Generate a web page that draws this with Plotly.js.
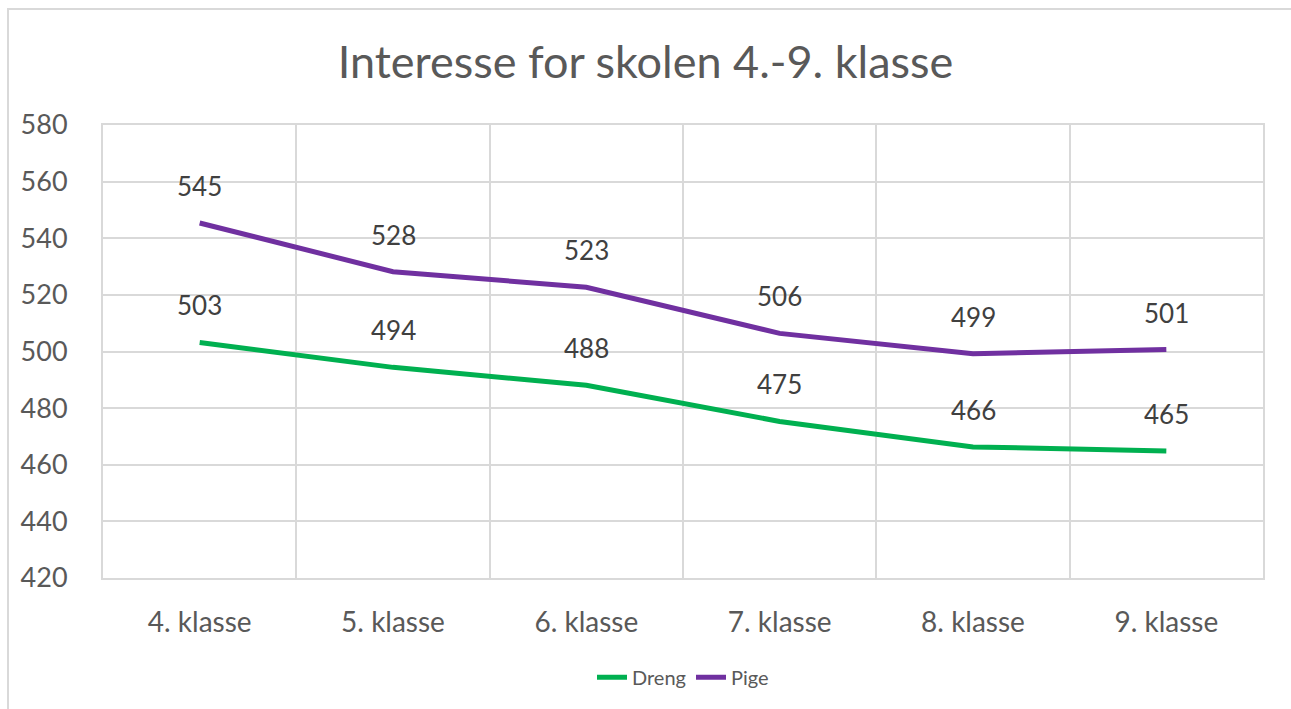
<!DOCTYPE html>
<html>
<head>
<meta charset="utf-8">
<script src="https://cdn.plot.ly/plotly-3.0.1.min.js"></script>
<style>
html,body{margin:0;padding:0;background:#fff;overflow:hidden;}
#frame{position:absolute;left:7px;top:8px;width:1400px;height:800px;border:2px solid #d9d9d9;box-sizing:border-box;}
#chart{position:absolute;left:0;top:0;width:1291px;height:709px;}
</style>
</head>
<body>
<div id="frame"></div>
<div id="chart"></div>
<script>
const categories = ["4. klasse","5. klasse","6. klasse","7. klasse","8. klasse","9. klasse"];
const dreng = [503.2, 494.4, 488.1, 475.3, 466.3, 464.9];
const pige = [545.4, 528.2, 522.7, 506.4, 499.2, 500.7];
const yTicks = [420,440,460,480,500,520,540,560,580];

const FONT = "Lato, 'Open Sans', sans-serif";
const GREEN = "#00B050", PURPLE = "#7030A0";

const traces = [
  {x: categories, y: dreng, name: "Dreng", type: "scatter", mode: "lines",
   line: {color: GREEN, width: 5}, hoverinfo: "skip"},
  {x: categories, y: pige, name: "Pige", type: "scatter", mode: "lines",
   line: {color: PURPLE, width: 5}, hoverinfo: "skip"}
];

const annotations = [];
[dreng, pige].forEach(series => {
  series.forEach((v, i) => {
    annotations.push({x: categories[i], y: v, xref: "x", yref: "y",
      text: String(Math.round(v)), showarrow: false, yshift: 37,
      xanchor: "center", yanchor: "middle",
      font: {family: FONT, size: 26, color: "#404040"}});
  });
});

const layout = {
  width: 1291, height: 709,
  margin: {l: 103, r: 28, t: 125, b: 131},
  paper_bgcolor: "rgba(0,0,0,0)", plot_bgcolor: "rgba(0,0,0,0)",
  title: {text: "Interesse for skolen 4.-9. klasse", x: 0.5, xanchor: "center",
          y: 0.912, yanchor: "middle", yref: "container",
          font: {family: FONT, size: 45, color: "#595959"}},
  xaxis: {type: "category", categoryorder: "array", categoryarray: categories,
          range: [-0.5, 5.5], tickson: "boundaries", showgrid: true,
          gridcolor: "#d9d9d9", gridwidth: 2, ticks: "", showline: true,
          linecolor: "#d9d9d9", linewidth: 2, mirror: true, zeroline: false,
          ticklabelstandoff: 18,
          tickfont: {family: FONT, size: 28, color: "#595959"}},
  yaxis: {range: [420, 580], tickvals: yTicks, showgrid: true,
          gridcolor: "#d9d9d9", gridwidth: 2, ticks: "", showline: true,
          linecolor: "#d9d9d9", linewidth: 2, mirror: true, zeroline: false,
          ticklabelstandoff: 28,
          tickfont: {family: FONT, size: 27, color: "#595959"}},
  showlegend: true,
  legend: {orientation: "h", x: 0.5, xanchor: "center", y: -0.219, yanchor: "middle",
           font: {family: FONT, size: 20, color: "#595959"}, itemwidth: 30},
  annotations: annotations
};

Plotly.newPlot("chart", traces, layout, {displayModeBar: false, staticPlot: true});
</script>
</body>
</html>
